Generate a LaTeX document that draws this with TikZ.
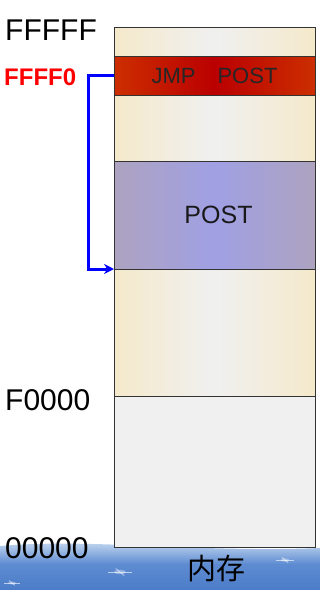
\documentclass[tikz,border=0pt]{standalone}
\usepackage{fontspec}
\setmainfont{Liberation Sans}
\newfontfamily\cjkfont{Noto Sans CJK SC}
\usetikzlibrary{arrows.meta}
\definecolor{cream}{HTML}{F5E9CB}
\definecolor{paper}{HTML}{F0F0F0}
\definecolor{redL}{HTML}{CC2E00}
\definecolor{redM}{HTML}{BA0000}
\definecolor{purpEdge}{HTML}{ADA3C0}
\definecolor{purpMid}{HTML}{A0A0E4}
\definecolor{skyTop}{HTML}{D4E3F4}
\definecolor{skyMid}{HTML}{5E8CD2}
\definecolor{skyLow}{HTML}{4C7CC8}
\definecolor{frame}{HTML}{333333}
\tikzset{
  region/.style={rectangle, draw=frame, line width=0.9pt, inner sep=0pt, outer sep=0pt,
    minimum width=201pt, anchor=north west},
  creamband/.style={region, left color=cream, right color=cream, middle color=paper},
  addr/.style={anchor=base west, inner sep=0pt, font=\fontsize{30}{36}\selectfont},
  jump/.style={draw=blue, line width=3pt, -{Stealth[length=10pt,width=10pt]}},
  glint/.style={white, opacity=0.6, line width=0.7pt}
}
\begin{document}
\begin{tikzpicture}[x=1pt,y=-1pt]
\useasboundingbox (0,0) rectangle (320,590);
% sky band at the foot of the page
\shade[top color=skyTop, bottom color=skyLow, middle color=skyMid]
  (0,546) .. controls (90,538) and (200,553) .. (320,548) -- (320,590) -- (0,590) -- cycle;
\foreach \px/\py/\s in {120/572/12, 12/583/8, 285/560/9} {
  \fill[white, opacity=0.35] (\px,\py) ellipse ({\s*0.5} and {\s*0.18});
  \draw[glint] (\px-\s,\py) -- (\px+\s,\py);
  \draw[glint] (\px-\s*0.35,\py-\s*0.3) -- (\px+\s*0.35,\py+\s*0.3);
}
% memory column
\node[creamband, minimum height=369pt] (high) at (114,27) {};
\node[region, fill=paper, minimum height=151pt] (low) at (114,396) {};
\node[region, left color=redL, right color=redL, middle color=redM,
      minimum height=39pt, font=\fontsize{22}{26}\selectfont, text=black!85]
      (jmp) at (114,56) {JMP\hspace{22pt}POST};
\node[region, left color=purpEdge, right color=purpEdge, middle color=purpMid,
      minimum height=108pt, text width=201pt, align=center,
      font=\fontsize{25}{30}\selectfont, text=black!90]
      (post) at (114,161) {\hspace*{8pt}POST};
% address labels
\node[addr] (aTop) at (5,40) {FFFFF};
\node[addr, text=red, font=\fontsize{24}{28}\selectfont\bfseries] (aReset) at (4,85) {FFFF0};
\node[addr] (aBios) at (5,410) {F0000};
\node[addr] (aZero) at (5,558) {00000};
\node[font=\cjkfont\fontsize{29}{34}\selectfont, inner sep=0pt] (memName) at (216,569) {内存};
% jump from the reset vector to POST
\draw[jump] (jmp.west) -- ++(-26,0) |- (post.south west);
\end{tikzpicture}
\end{document}
